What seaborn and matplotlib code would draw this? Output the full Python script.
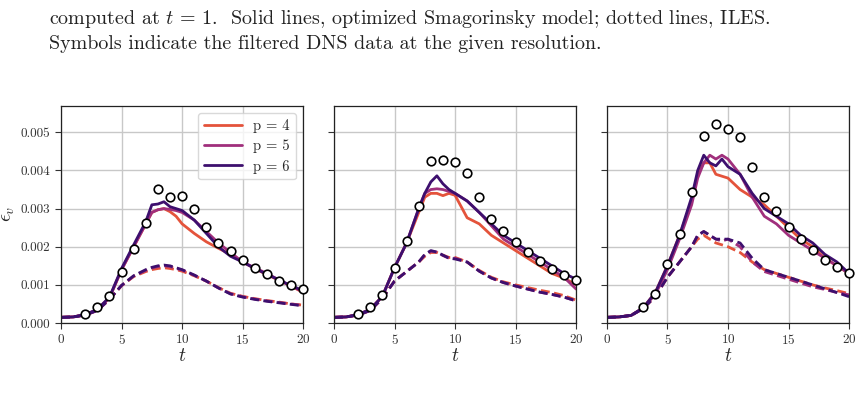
import numpy as np
import pandas as pd
import seaborn as sns
import matplotlib.pyplot as plt
from matplotlib.lines import Line2D
from matplotlib.ticker import FormatStrFormatter

# time grid shared by every simulation curve
t = [0, 1, 2, 3, 4, 5, 6, 7, 7.5, 8, 8.5, 9, 9.5, 10, 11, 12, 13, 14, 15, 16, 17, 18, 19, 20]

# panel 1 - optimized Smagorinsky (solid)
a_les_p4 = [0.00015, 0.00016, 0.00022, 0.00035, 0.00066, 0.0014, 0.002, 0.0026, 0.0029, 0.00297, 0.003, 0.00292,
            0.0028, 0.0026, 0.00235, 0.00213, 0.00196, 0.0018, 0.0016, 0.00143, 0.00127, 0.00112, 0.00097, 0.0008]
a_les_p5 = [0.00015, 0.00016, 0.00022, 0.00035, 0.00066, 0.0014, 0.002, 0.0026, 0.0029, 0.00297, 0.003, 0.00298,
            0.00295, 0.0029, 0.0027, 0.0024, 0.0021, 0.00185, 0.0016, 0.00145, 0.0013, 0.00113, 0.00097, 0.00082]
a_les_p6 = [0.00015, 0.00016, 0.00022, 0.00036, 0.00068, 0.00143, 0.00205, 0.00266, 0.0031, 0.00312, 0.00318, 0.00305,
            0.003, 0.00295, 0.0027, 0.00235, 0.002, 0.00175, 0.0016, 0.00143, 0.00128, 0.00113, 0.00098, 0.00085]
# panel 1 - ILES (dashed)
a_iles_p4 = [0.00015, 0.00016, 0.00021, 0.00033, 0.00062, 0.00098, 0.00122, 0.00135, 0.0014, 0.00143, 0.00145, 0.00143,
             0.0014, 0.00136, 0.00124, 0.0011, 0.00093, 0.00078, 0.0007, 0.00064, 0.00059, 0.00055, 0.0005, 0.00047]
a_iles_p5 = [0.00015, 0.00016, 0.00021, 0.00033, 0.00062, 0.00098, 0.00123, 0.00138, 0.00144, 0.00148, 0.0015, 0.00148,
             0.00143, 0.00139, 0.00125, 0.0011, 0.00092, 0.00077, 0.00069, 0.00063, 0.00058, 0.00054, 0.0005, 0.00046]
a_iles_p6 = [0.00015, 0.00016, 0.00021, 0.00033, 0.00062, 0.00099, 0.00124, 0.0014, 0.00146, 0.0015, 0.00152, 0.0015,
             0.00145, 0.0014, 0.00126, 0.0011, 0.00092, 0.00076, 0.00068, 0.00062, 0.00057, 0.00053, 0.00049, 0.00045]

# panel 2
b_les_p4 = [0.00015, 0.00016, 0.00022, 0.00036, 0.0007, 0.00145, 0.0021, 0.0029, 0.0033, 0.0034, 0.0034, 0.00334,
            0.0034, 0.00335, 0.00276, 0.0026, 0.0023, 0.0021, 0.0019, 0.0017, 0.0015, 0.0013, 0.00118, 0.001]
b_les_p5 = [0.00015, 0.00016, 0.00022, 0.00036, 0.0007, 0.00145, 0.0021, 0.003, 0.0034, 0.0035, 0.00352, 0.0035,
            0.00345, 0.0034, 0.0032, 0.0029, 0.00255, 0.0022, 0.002, 0.0018, 0.0016, 0.0014, 0.0012, 0.00089]
b_les_p6 = [0.00015, 0.00016, 0.00022, 0.00036, 0.0007, 0.00145, 0.0021, 0.003, 0.0034, 0.0037, 0.00386, 0.00365,
            0.0035, 0.0034, 0.0032, 0.0029, 0.0026, 0.0023, 0.0021, 0.0019, 0.0017, 0.0015, 0.0013, 0.00115]
b_iles_p4 = [0.00015, 0.00016, 0.00021, 0.00033, 0.00065, 0.0011, 0.00135, 0.0016, 0.00175, 0.00185, 0.00185, 0.00178,
             0.00172, 0.00172, 0.0016, 0.00138, 0.0012, 0.00108, 0.001, 0.00093, 0.00086, 0.0008, 0.00072, 0.0006]
b_iles_p5 = [0.00015, 0.00016, 0.00021, 0.00033, 0.00065, 0.0011, 0.00135, 0.0016, 0.00178, 0.00188, 0.00186, 0.00177,
             0.0017, 0.0017, 0.0016, 0.00136, 0.00118, 0.00106, 0.00097, 0.00089, 0.00081, 0.00075, 0.00068, 0.00058]
b_iles_p6 = [0.00015, 0.00016, 0.00021, 0.00033, 0.00065, 0.0011, 0.00135, 0.0016, 0.0018, 0.0019, 0.00186, 0.00178,
             0.0017, 0.00168, 0.0016, 0.00136, 0.00118, 0.00106, 0.00097, 0.00089, 0.00081, 0.00075, 0.00068, 0.00058]

# panel 3
c_les_p4 = [0.00015, 0.00016, 0.0002, 0.0004, 0.0008, 0.0015, 0.0023, 0.0032, 0.0039, 0.0042, 0.0042, 0.0039,
            0.00385, 0.0038, 0.0035, 0.0033, 0.0031, 0.0028, 0.0025, 0.0022, 0.002, 0.0017, 0.0015, 0.0013]
c_les_p5 = [0.00015, 0.00016, 0.0002, 0.0004, 0.00075, 0.0014, 0.0022, 0.0031, 0.0038, 0.0042, 0.0044, 0.0043,
            0.0044, 0.0043, 0.0039, 0.0033, 0.0028, 0.0026, 0.0023, 0.0021, 0.0019, 0.0017, 0.0015, 0.0013]
c_les_p6 = [0.00015, 0.00016, 0.0002, 0.0004, 0.0008, 0.0015, 0.0023, 0.0033, 0.004, 0.0044, 0.0042, 0.00412,
            0.0043, 0.0041, 0.0039, 0.0034, 0.003, 0.0028, 0.0026, 0.0023, 0.0021, 0.0018, 0.0016, 0.0013]
c_iles_p4 = [0.00015, 0.00016, 0.0002, 0.00038, 0.0007, 0.0012, 0.0016, 0.002, 0.0022, 0.0023, 0.0022, 0.0021,
             0.00205, 0.002, 0.00185, 0.0016, 0.0014, 0.0013, 0.0012, 0.0011, 0.001, 0.00092, 0.00085, 0.00077]
c_iles_p5 = [0.00015, 0.00016, 0.0002, 0.00038, 0.0007, 0.0012, 0.0016, 0.002, 0.0023, 0.0024, 0.0023, 0.0022,
             0.00215, 0.0022, 0.002, 0.0016, 0.00135, 0.00125, 0.00115, 0.00105, 0.00095, 0.00088, 0.0008, 0.00074]
c_iles_p6 = [0.00015, 0.00016, 0.0002, 0.00038, 0.0007, 0.0012, 0.0016, 0.002, 0.0023, 0.0024, 0.0023, 0.0022,
             0.0022, 0.0022, 0.0021, 0.0017, 0.0014, 0.0013, 0.0012, 0.0011, 0.001, 0.0009, 0.0008, 0.00069]

# filtered DNS symbols
dns_t_a = [2, 3, 4, 5, 6, 7, 8, 9, 10, 11, 12, 13, 14, 15, 16, 17, 18, 19, 20]
dns_a = [0.00025, 0.00041, 0.00071, 0.00134, 0.00194, 0.00263, 0.00351, 0.00331, 0.00333, 0.00299,
         0.00252, 0.00211, 0.00189, 0.00164, 0.00145, 0.00128, 0.00111, 0.00101, 0.0009]
dns_t_b = [2, 3, 4, 5, 6, 7, 8, 9, 10, 11, 12, 13, 14, 15, 16, 17, 18, 19, 20]
dns_b = [0.00025, 0.00041, 0.00073, 0.00145, 0.00215, 0.00307, 0.00425, 0.00427, 0.00423, 0.00394,
         0.00331, 0.00273, 0.00242, 0.00212, 0.00185, 0.00163, 0.00141, 0.00126, 0.00113]
dns_t_c = [3, 4, 5, 6, 7, 8, 9, 10, 11, 12, 13, 14, 15, 16, 17, 18, 19, 20]
dns_c = [0.00041, 0.00076, 0.00154, 0.00233, 0.00344, 0.00491, 0.00522, 0.00509, 0.00487,
         0.00408, 0.0033, 0.00293, 0.00253, 0.0022, 0.00191, 0.00166, 0.00148, 0.00131]

orders = ["p = 4", "p = 5", "p = 6"]
colors = {"p = 4": "#e4533b", "p = 5": "#a02f7c", "p = 6": "#3d0f6e"}

panels = [
    ([a_les_p4, a_les_p5, a_les_p6], [a_iles_p4, a_iles_p5, a_iles_p6], dns_t_a, dns_a),
    ([b_les_p4, b_les_p5, b_les_p6], [b_iles_p4, b_iles_p5, b_iles_p6], dns_t_b, dns_b),
    ([c_les_p4, c_les_p5, c_les_p6], [c_iles_p4, c_iles_p5, c_iles_p6], dns_t_c, dns_c),
]

sns.set_style("ticks", {"axes.grid": True})
plt.rcParams["font.family"] = ["cmr10", "DejaVu Serif"]
plt.rcParams["mathtext.fontset"] = "cm"
plt.rcParams["axes.formatter.use_mathtext"] = True
plt.rcParams["axes.edgecolor"] = "#222222"
plt.rcParams["grid.color"] = "#c8c8c8"
plt.rcParams["grid.linewidth"] = 1.0

fig, axes = plt.subplots(1, 3, figsize=(8.62, 4.11), dpi=100)
fig.subplots_adjust(left=0.0708, right=0.985, bottom=0.214, top=0.743, wspace=0.127)

for i, (ax, (les, iles, dt, dv)) in enumerate(zip(axes, panels)):
    rows = []
    for name, y in zip(orders, les):
        rows.append(pd.DataFrame({"t": t, "eps": y, "p": name, "model": "LES"}))
    for name, y in zip(orders, iles):
        rows.append(pd.DataFrame({"t": t, "eps": y, "p": name, "model": "ILES"}))
    df = pd.concat(rows)
    sns.lineplot(data=df, x="t", y="eps", hue="p", style="model", palette=colors,
                 dashes={"LES": "", "ILES": (3.2, 1.6)}, estimator=None, sort=False,
                 units="p", linewidth=2.0, legend=False, ax=ax)
    sns.scatterplot(x=dt, y=dv, ax=ax, s=38, color="white", edgecolor="black",
                    linewidth=1.2, zorder=5, clip_on=False)

    ax.set_xlim(0, 20)
    ax.set_ylim(0, 0.0057)
    ax.set_xticks([0, 5, 10, 15, 20])
    ax.set_yticks([0, 0.001, 0.002, 0.003, 0.004, 0.005])
    ax.yaxis.set_major_formatter(FormatStrFormatter("%.3f"))
    ax.tick_params(labelsize=9.5, colors="#333333", length=4, width=0.8)
    ax.set_xlabel("$t$", fontsize=14, labelpad=0)
    ax.set_ylabel("")
    for s in ax.spines.values():
        s.set_visible(True)
        s.set_linewidth(0.9)
    if i > 0:
        ax.set_yticklabels([])

axes[0].set_ylabel(r"$\epsilon_v$", fontsize=14)
axes[0].yaxis.set_label_coords(-0.18, 0.5)

handles = [Line2D([], [], color=colors[p], lw=2.0) for p in orders]
axes[0].legend(handles, orders, loc="upper right", fontsize=10.5, frameon=True,
               handlelength=2.6, borderaxespad=0.5, labelspacing=0.45, edgecolor="#d0d0d0")

fig.text(0.057, 1 - 24 / 411,
         "computed at $t$ = 1.  Solid lines, optimized Smagorinsky model; dotted lines, ILES.",
         fontsize=14.4, va="baseline", ha="left", color="#222222")
fig.text(0.057, 1 - 49 / 411,
         "Symbols indicate the filtered DNS data at the given resolution.",
         fontsize=14.4, va="baseline", ha="left", color="#222222")

fig.savefig("out.png", dpi=100)
